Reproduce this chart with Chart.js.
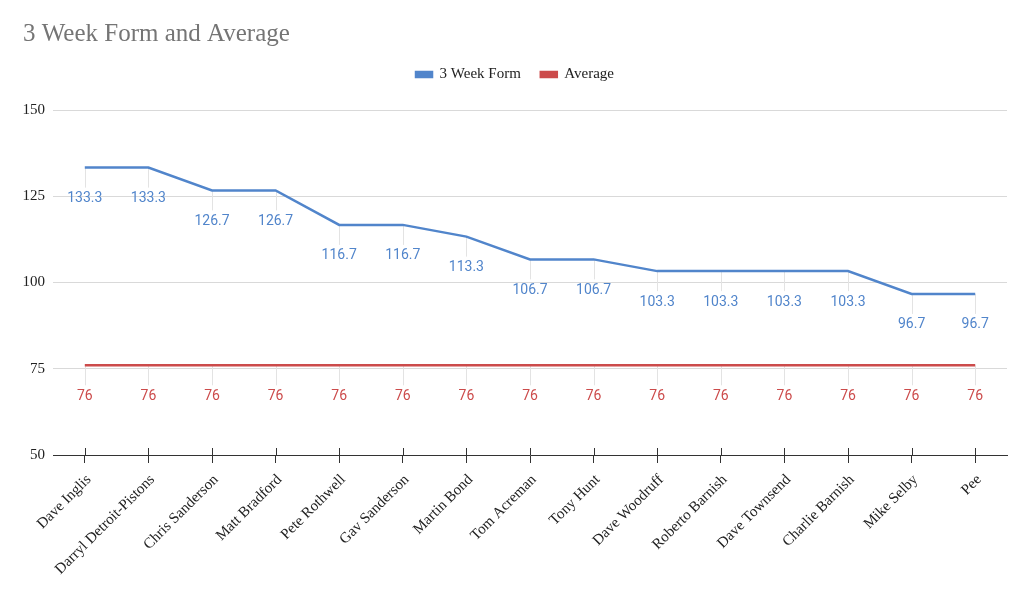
<!DOCTYPE html>
<html>
<head>
<meta charset="utf-8">
<script src="https://cdn.jsdelivr.net/npm/chart.js@4"></script>
<style>
  html, body { margin: 0; padding: 0; background: #fff; }
  #wrap { width: 1023px; height: 592px; position: relative; }
</style>
</head>
<body>
<div id="wrap"><canvas id="formChart"></canvas></div>
<script>
// chart data
var players = ['Dave Inglis', 'Darryl Detroit-Pistons', 'Chris Sanderson', 'Matt Bradford', 'Pete Rothwell',
  'Gav Sanderson', 'Martin Bond', 'Tom Acreman', 'Tony Hunt', 'Dave Woodruff', 'Roberto Barnish',
  'Dave Townsend', 'Charlie Barnish', 'Mike Selby', 'Pee'];
var weekForm = [133.3, 133.3, 126.7, 126.7, 116.7, 116.7, 113.3, 106.7, 106.7, 103.3, 103.3, 103.3, 103.3, 96.7, 96.7];
var average = [76, 76, 76, 76, 76, 76, 76, 76, 76, 76, 76, 76, 76, 76, 76];
var yTicks = [50, 75, 100, 125, 150];

var BLUE = '#5185cb';
var RED = '#cc4b4b';
var SERIF = '"Liberation Serif", "Times New Roman", serif';

// data labels under each point, with a thin leader line
var labelPlugin = {
  id: 'pointLabels',
  beforeLayout: function (chart) {
    // leave a bit more room under the legend, like the original
    var lg = chart.legend;
    if (lg && !lg._tall) {
      var fit = lg.fit;
      lg.fit = function () {
        fit.call(this);
        this.height = 63;
      };
      lg._tall = true;
    }
  },
  beforeDatasetsDraw: function (chart) {
    var ctx = chart.ctx;
    ctx.save();
    ctx.strokeStyle = '#e3e3e3';
    ctx.lineWidth = 1;
    chart.data.datasets.forEach(function (ds, i) {
      chart.getDatasetMeta(i).data.forEach(function (pt) {
        ctx.beginPath();
        ctx.moveTo(Math.round(pt.x) + 0.5, pt.y);
        ctx.lineTo(Math.round(pt.x) + 0.5, pt.y + 20);
        ctx.stroke();
      });
    });
    ctx.restore();
  },
  afterDatasetsDraw: function (chart) {
    var ctx = chart.ctx;
    ctx.save();
    ctx.font = '14px Roboto, "Noto Sans", sans-serif';
    ctx.textAlign = 'center';
    ctx.textBaseline = 'middle';
    chart.data.datasets.forEach(function (ds, i) {
      ctx.fillStyle = ds.borderColor;
      chart.getDatasetMeta(i).data.forEach(function (pt, j) {
        ctx.fillText(String(ds.data[j]), pt.x, pt.y + 31);
      });
    });
    ctx.restore();
  },
  afterDraw: function (chart) {
    // tick marks also poke up a little above the x axis
    var ctx = chart.ctx;
    var xs = chart.scales.x;
    var bottom = chart.chartArea.bottom;
    ctx.save();
    ctx.strokeStyle = '#333';
    ctx.lineWidth = 1;
    players.forEach(function (p, i) {
      var x = Math.round(xs.getPixelForValue(i)) + 0.5;
      ctx.beginPath();
      ctx.moveTo(x, bottom - 7);
      ctx.lineTo(x, bottom);
      ctx.stroke();
    });
    ctx.restore();
  }
};

document.addEventListener('DOMContentLoaded', function () {
  var canvas = document.getElementById('formChart');
  new Chart(canvas.getContext('2d'), {
    type: 'line',
    data: {
      labels: players,
      datasets: [{
        label: '3 Week Form',
        data: weekForm,
        borderColor: BLUE,
        backgroundColor: BLUE,
        borderWidth: 2.5,
        pointRadius: 0,
        pointHoverRadius: 0,
        tension: 0
      }, {
        label: 'Average',
        data: average,
        borderColor: RED,
        backgroundColor: RED,
        borderWidth: 2.5,
        pointRadius: 0,
        pointHoverRadius: 0,
        tension: 0
      }]
    },
    options: {
      responsive: true,
      maintainAspectRatio: false,
      animation: false,
      layout: { padding: { top: 0, left: 23, right: 16, bottom: 0 } },
      plugins: {
        title: {
          display: true,
          text: '3 Week Form and Average',
          align: 'start',
          color: '#757575',
          font: { family: SERIF, size: 25, weight: 'normal', lineHeight: 1 },
          padding: { top: 22, bottom: 0 }
        },
        legend: {
          display: true,
          position: 'top',
          labels: {
            color: '#222',
            font: { family: SERIF, size: 15 },
            boxWidth: 16,
            boxHeight: 5,
            padding: 20
          }
        },
        tooltip: { enabled: false }
      },
      scales: {
        x: {
          offset: true,
          grid: {
            display: true,
            drawOnChartArea: false,
            drawTicks: true,
            tickLength: 8,
            color: '#333'
          },
          border: { display: true, color: '#333', width: 1 },
          ticks: {
            autoSkip: false,
            maxRotation: 45,
            minRotation: 45,
            padding: 8,
            labelOffset: 4,
            color: '#222',
            font: { family: SERIF, size: 15 }
          },
          afterFit: function (scale) { scale.height = 137; }
        },
        y: {
          min: 50,
          max: 150,
          afterBuildTicks: function (scale) {
            scale.ticks = yTicks.map(function (v) { return { value: v }; });
          },
          grid: { color: '#d9d9d9', drawTicks: false },
          border: { display: false },
          ticks: {
            padding: 8,
            color: '#222',
            font: { family: SERIF, size: 15 }
          },
          afterFit: function (scale) { scale.width = 30; }
        }
      }
    },
    plugins: [labelPlugin]
  });
});
</script>
</body>
</html>
